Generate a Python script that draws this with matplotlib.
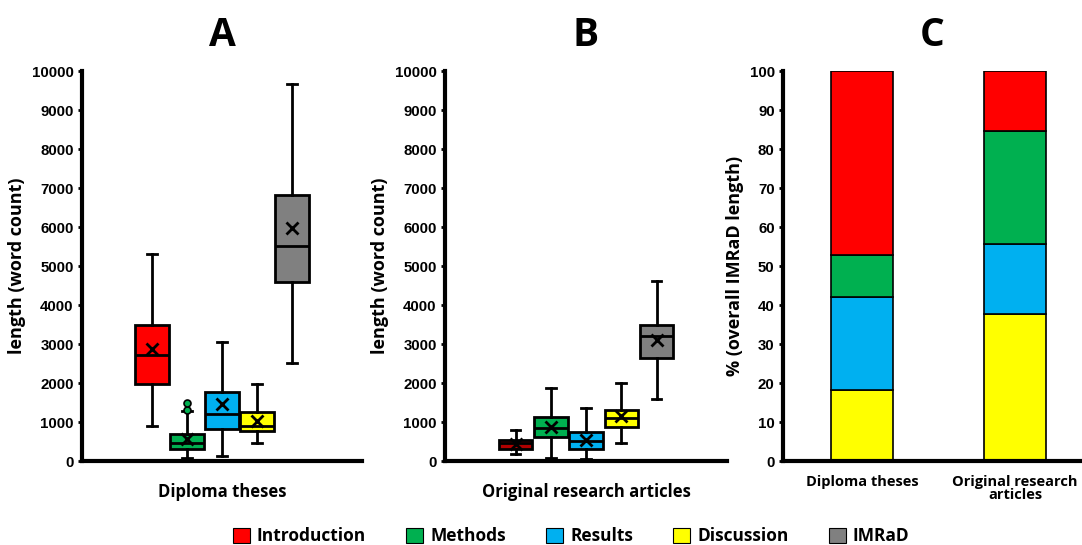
import numpy as np
import matplotlib.pyplot as plt
from matplotlib.patches import Patch

# sections
sections = ['Introduction', 'Methods', 'Results', 'Discussion', 'IMRaD']
colors_a = ['#ff0000', '#00b050', '#00b0f0', '#ffff00', '#808080']
colors_b = ['#b00000', '#00b050', '#00b0f0', '#ffff00', '#808080']

# panel A: diploma theses (word count) -> whislo, q1, med, q3, whishi, mean
thesis_whislo = [900, 90, 130, 450, 2520]
thesis_q1 = [1970, 300, 830, 770, 4590]
thesis_med = [2720, 450, 1200, 900, 5520]
thesis_q3 = [3480, 700, 1760, 1260, 6820]
thesis_whishi = [5320, 1270, 3050, 1970, 9660]
thesis_mean = [2870, 560, 1460, 1030, 5980]
thesis_fliers = [[], [1300, 1490], [], [], []]

# panel B: original research articles
article_whislo = [190, 90, 40, 470, 1580]
article_q1 = [320, 610, 320, 870, 2650]
article_med = [450, 850, 520, 1110, 3200]
article_q3 = [540, 1140, 740, 1320, 3480]
article_whishi = [800, 1870, 1350, 1990, 4610]
article_mean = [430, 880, 550, 1160, 3100]

# panel C: share of overall IMRaD length (%)
groups_c = ['Diploma theses', 'Original research\narticles']
share_discussion = [18.3, 37.7]
share_results = [23.7, 18.0]
share_methods = [10.9, 29.0]
share_introduction = [47.1, 15.3]

plt.rcParams['font.family'] = ['Liberation Sans', 'DejaVu Sans']
LBL = 'Open Sans'

fig = plt.figure(figsize=(10.82, 5.45), dpi=100)
ax_a = fig.add_axes([0.0758, 0.1541, 0.2588, 0.7156])
ax_b = fig.add_axes([0.4113, 0.1541, 0.2606, 0.7156])
ax_c = fig.add_axes([0.7237, 0.1541, 0.2763, 0.7156])


def make_stats(lo, q1, med, q3, hi, mean, fliers=None):
    stats = []
    for i in range(len(lo)):
        stats.append(dict(whislo=lo[i], q1=q1[i], med=med[i], q3=q3[i],
                          whishi=hi[i], mean=mean[i],
                          fliers=fliers[i] if fliers else []))
    return stats


def style_axis(ax):
    for s in ['top', 'right']:
        ax.spines[s].set_visible(False)
    for s in ['left', 'bottom']:
        ax.spines[s].set_linewidth(3)
    ax.tick_params(axis='y', length=3, width=2, labelsize=10.8, pad=3)
    for t in ax.get_yticklabels():
        t.set_fontweight('bold')


def draw_boxes(ax, stats, cols, title, xlabel):
    pos = np.arange(1, len(stats) + 1)
    bp = ax.bxp(stats, positions=pos, widths=0.95, showmeans=True,
                patch_artist=True, capwidths=0.28,
                boxprops=dict(linewidth=2, edgecolor='black'),
                medianprops=dict(color='black', linewidth=2),
                whiskerprops=dict(color='black', linewidth=2),
                capprops=dict(color='black', linewidth=2),
                meanprops=dict(marker='x', markeredgecolor='black',
                               markersize=9, markeredgewidth=2),
                flierprops=dict(marker='o', markerfacecolor='#00b050',
                                markeredgecolor='black', markersize=5,
                                markeredgewidth=1.2))
    for patch, c in zip(bp['boxes'], cols):
        patch.set_facecolor(c)
    ax.set_xlim(-1, 7)
    ax.set_ylim(0, 10000)
    ax.set_yticks(np.arange(0, 10001, 1000))
    ax.set_xticks([])
    style_axis(ax)
    ax.set_ylabel('length (word count)', family=LBL, fontweight='bold',
                  fontsize=13, labelpad=4)
    ax.set_xlabel(xlabel, family=LBL, fontweight='bold', fontsize=12,
                  labelpad=16)
    ax.set_title(title, family=LBL, fontweight='bold', fontsize=28, pad=18)


draw_boxes(ax_a, make_stats(thesis_whislo, thesis_q1, thesis_med, thesis_q3,
                            thesis_whishi, thesis_mean, thesis_fliers),
           colors_a, 'A', 'Diploma theses')
draw_boxes(ax_b, make_stats(article_whislo, article_q1, article_med, article_q3,
                            article_whishi, article_mean),
           colors_b, 'B', 'Original research articles')

# panel C stacked bars
xc = np.arange(len(groups_c))
bottom = np.zeros(len(groups_c))
for vals, c in [(share_discussion, '#ffff00'), (share_results, '#00b0f0'),
                (share_methods, '#00b050'), (share_introduction, '#ff0000')]:
    ax_c.bar(xc, vals, bottom=bottom, width=0.4, color=c,
             edgecolor='black', linewidth=1.2)
    bottom += np.array(vals)
ax_c.set_xlim(-0.516, 1.438)
ax_c.set_ylim(0, 100)
ax_c.set_yticks(np.arange(0, 101, 10))
ax_c.set_xticks(xc)
ax_c.set_xticklabels(groups_c, family=LBL, fontweight='bold', fontsize=10.5,
                     linespacing=0.95)
ax_c.tick_params(axis='x', length=0, pad=10)
style_axis(ax_c)
ax_c.set_ylabel('% (overall IMRaD length)', family=LBL, fontweight='bold',
                fontsize=13, labelpad=4)
ax_c.set_title('C', family=LBL, fontweight='bold', fontsize=28, pad=18)

handles = [Patch(facecolor=c, edgecolor='black', linewidth=0.8) for c in colors_a]
fig.legend(handles, sections, loc='center', bbox_to_anchor=(571 / 1082, 0.016),
           ncol=5, frameon=False, handlelength=1.0, handleheight=1.0,
           handletextpad=0.4, columnspacing=2.3,
           prop=dict(family=LBL, weight='bold', size=12.5))

fig.savefig('out.png', dpi=100)
